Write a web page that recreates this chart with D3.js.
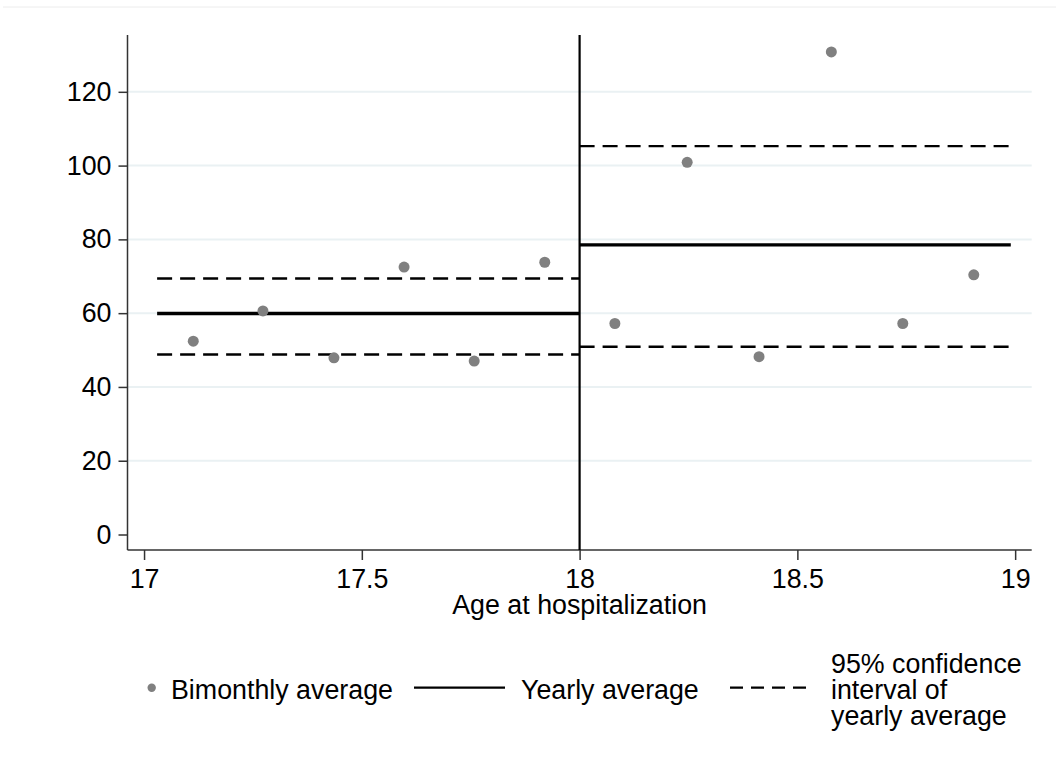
<!DOCTYPE html>
<html>
<head>
<meta charset="utf-8">
<script src="https://cdn.jsdelivr.net/npm/d3@7/dist/d3.min.js"></script>
<style>
  html, body { margin: 0; padding: 0; background: #fff; }
  svg { display: block; font-family: "Liberation Sans", Arial, sans-serif; }
</style>
</head>
<body>
<svg id="chart" width="1056" height="774"></svg>
<script>
// Bimonthly averages by age at hospitalization
const ageBins = [17.113, 17.273, 17.436, 17.597, 17.758, 17.920,
                 18.081, 18.247, 18.412, 18.578, 18.742, 18.905];
const bimonthlyAvg = [52.4, 60.6, 47.9, 72.5, 47.0, 73.8,
                      57.2, 100.9, 48.2, 130.8, 57.2, 70.4];

// Yearly averages with 95% confidence bounds, one entry per year of age
const yearStart = [17.03, 18.0];
const yearEnd = [18.0, 18.99];
const yearlyAvg = [59.9, 78.5];
const ciLower = [48.8, 50.9];
const ciUpper = [69.4, 105.3];

// Cutoff at age 18
const cutoffAge = 18;

// Axis ticks
const xTicks = [17, 17.5, 18, 18.5, 19];
const yTicks = [0, 20, 40, 60, 80, 100, 120];

// Legend entries
const legendLabels = ["Bimonthly average", "Yearly average", ["95% confidence", "interval of", "yearly average"]];

const svg = d3.select("#chart");
const FONT = 26.8;

const x = d3.scaleLinear().domain([16.962, 19.038]).range([127.5, 1031.7]);
const y = d3.scaleLinear().domain([-4.2, 135.4]).range([550, 35]);

// Thin outer frame line at the top of the graph region
svg.append("line")
  .attr("x1", 3).attr("x2", 1056).attr("y1", 7).attr("y2", 7)
  .attr("stroke", "#ececec").attr("stroke-width", 1);

// Horizontal gridlines
svg.append("g").selectAll("line")
  .data(yTicks.filter(d => d !== 0))
  .join("line")
  .attr("x1", x.range()[0]).attr("x2", x.range()[1])
  .attr("y1", d => y(d)).attr("y2", d => y(d))
  .attr("stroke", "#eaf1f3").attr("stroke-width", 2);

// Axes
const yAxis = svg.append("g")
  .attr("transform", `translate(${x.range()[0]},0)`)
  .call(d3.axisLeft(y).tickValues(yTicks).tickSize(9).tickPadding(7).tickSizeOuter(0));
const xAxis = svg.append("g")
  .attr("transform", `translate(0,${y.range()[0]})`)
  .call(d3.axisBottom(x).tickValues(xTicks).tickFormat(d3.format("")).tickSize(10).tickPadding(9).tickSizeOuter(0));

[yAxis, xAxis].forEach(g => {
  g.select(".domain").attr("stroke", "#333").attr("stroke-width", 1.5);
  g.selectAll(".tick line").attr("stroke", "#333").attr("stroke-width", 1.5);
  g.selectAll(".tick text").attr("fill", "#000").style("font-size", FONT + "px")
    .style("font-family", "'Liberation Sans', Arial, sans-serif");
});
// Extend the axis lines to meet at the corner and reach the top
yAxis.select(".domain").attr("d", `M0,${y.range()[0]}V${y.range()[1]}`);
xAxis.select(".domain").attr("d", `M${x.range()[0]},0H${x.range()[1]}`);

// X axis title
svg.append("text")
  .attr("x", (x.range()[0] + x.range()[1]) / 2)
  .attr("y", 614)
  .attr("text-anchor", "middle")
  .style("font-size", FONT + "px")
  .text("Age at hospitalization");

// Vertical cutoff line
svg.append("line")
  .attr("x1", x(cutoffAge)).attr("x2", x(cutoffAge))
  .attr("y1", y.range()[1]).attr("y2", y.range()[0])
  .attr("stroke", "#000").attr("stroke-width", 2.2);

const years = d3.range(yearlyAvg.length);

// Confidence interval bounds (dashed)
[ciUpper, ciLower].forEach(bound => {
  svg.append("g").selectAll("line")
    .data(years)
    .join("line")
    .attr("x1", i => x(yearStart[i])).attr("x2", i => x(yearEnd[i]))
    .attr("y1", i => y(bound[i])).attr("y2", i => y(bound[i]))
    .attr("stroke", "#000").attr("stroke-width", 2.3)
    .attr("stroke-dasharray", "15,8");
});

// Yearly averages (solid)
svg.append("g").selectAll("line")
  .data(years)
  .join("line")
  .attr("x1", i => x(yearStart[i])).attr("x2", i => x(yearEnd[i]))
  .attr("y1", i => y(yearlyAvg[i])).attr("y2", i => y(yearlyAvg[i]))
  .attr("stroke", "#000").attr("stroke-width", 3.4);

// Bimonthly points
svg.append("g").selectAll("circle")
  .data(ageBins)
  .join("circle")
  .attr("cx", d => x(d))
  .attr("cy", (d, i) => y(bimonthlyAvg[i]))
  .attr("r", 5.5)
  .attr("fill", "#808080");

// Legend
const leg = svg.append("g").style("font-size", FONT + "px");
leg.append("circle").attr("cx", 151.7).attr("cy", 687.7).attr("r", 4.2).attr("fill", "#808080");
leg.append("text").attr("x", 171).attr("y", 699).text(legendLabels[0]);

leg.append("line").attr("x1", 414).attr("x2", 505).attr("y1", 687.7).attr("y2", 687.7)
  .attr("stroke", "#000").attr("stroke-width", 2.2);
leg.append("text").attr("x", 521).attr("y", 699).text(legendLabels[1]);

leg.append("line").attr("x1", 730).attr("x2", 806).attr("y1", 687.7).attr("y2", 687.7)
  .attr("stroke", "#000").attr("stroke-width", 2.2).attr("stroke-dasharray", "13,8");
// Three-line label, middle line level with the other legend labels
legendLabels[2].forEach((t, i) => {
  leg.append("text").attr("x", 831).attr("y", 699 + (i - 1) * 26.3).text(t);
});
</script>
</body>
</html>
